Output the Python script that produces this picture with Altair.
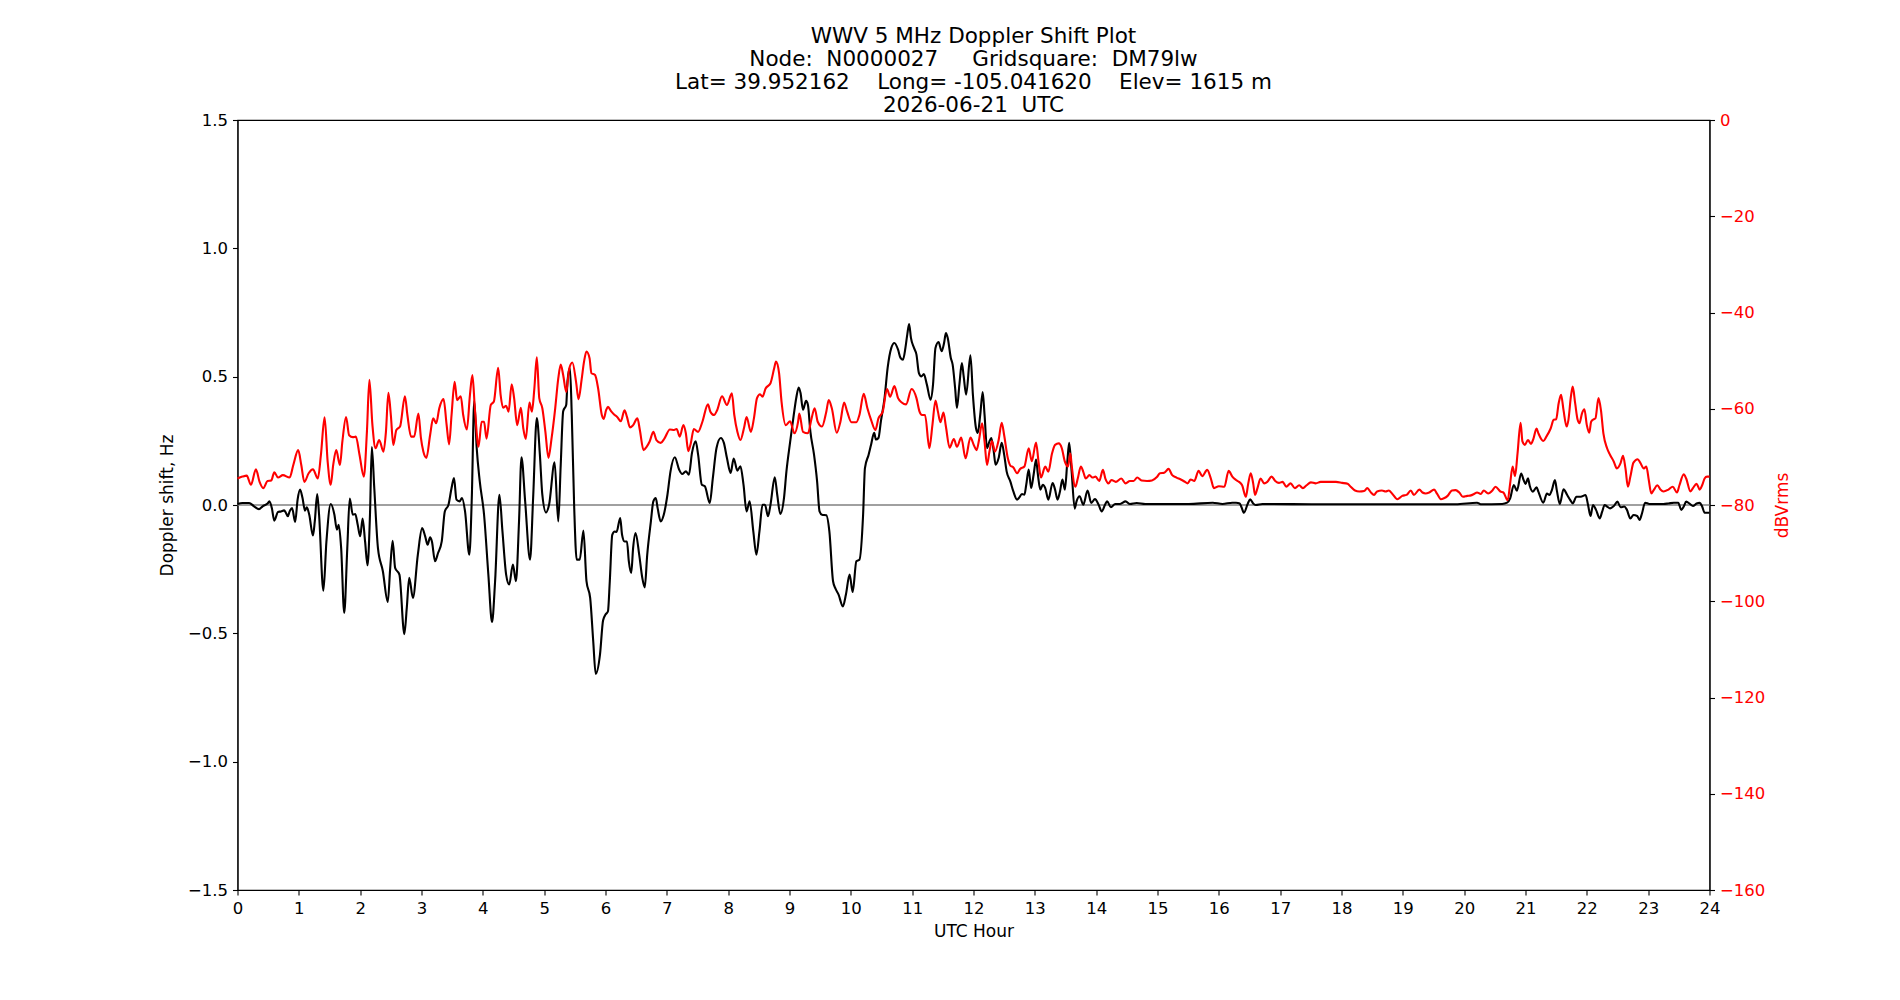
import altair as alt
import pandas as pd

# ---- data ----
black_hours = [0.00,0.08,0.19,0.27,0.35,0.41,0.49,0.52,0.56,0.60,0.66,0.71,0.76,0.79,0.82,0.85,0.89,0.94,0.98,1.02,
1.06,1.10,1.13,1.17,1.23,1.26,1.30,1.33,1.40,1.45,1.52,1.58,1.62,1.65,1.69,1.74,1.79,1.83,1.88,1.92,
1.96,2.00,2.04,2.08,2.12,2.16,2.19,2.23,2.29,2.37,2.45,2.49,2.53,2.57,2.64,2.72,2.76,2.80,2.86,2.94,
3.01,3.06,3.10,3.14,3.17,3.22,3.27,3.33,3.38,3.44,3.49,3.53,3.57,3.62,3.66,3.71,3.78,3.82,3.86,3.90,
3.95,4.02,4.09,4.15,4.20,4.27,4.32,4.38,4.43,4.49,4.54,4.59,4.63,4.69,4.77,4.82,4.88,4.93,4.97,5.03,
5.08,5.17,5.23,5.27,5.31,5.36,5.38,5.42,5.45,5.49,5.53,5.58,5.64,5.69,5.75,5.80,5.84,5.91,5.96,6.00,
6.04,6.07,6.11,6.15,6.18,6.24,6.27,6.31,6.35,6.38,6.42,6.45,6.49,6.55,6.60,6.64,6.68,6.74,6.78,6.82,
6.85,6.90,6.95,7.01,7.06,7.13,7.20,7.25,7.31,7.36,7.41,7.47,7.51,7.57,7.62,7.70,7.75,7.81,7.88,7.93,
7.98,8.04,8.09,8.15,8.20,8.25,8.30,8.35,8.41,8.46,8.51,8.56,8.60,8.65,8.69,8.76,8.80,8.85,8.91,8.95,
9.01,9.07,9.11,9.15,9.18,9.22,9.27,9.30,9.34,9.40,9.45,9.49,9.53,9.60,9.65,9.71,9.75,9.80,9.87,9.92,
9.98,10.03,10.09,10.14,10.20,10.23,10.29,10.33,10.38,10.41,10.45,10.49,10.55,10.60,10.66,10.71,10.77,10.81,10.85,10.89,
10.92,10.95,10.98,11.03,11.07,11.11,11.15,11.19,11.24,11.30,11.34,11.38,11.43,11.48,11.52,11.55,11.58,11.63,11.66,11.70,
11.73,11.77,11.81,11.84,11.88,11.95,11.99,12.04,12.07,12.11,12.15,12.18,12.22,12.26,12.29,12.33,12.36,12.41,12.46,12.50,
12.54,12.60,12.65,12.71,12.74,12.79,12.83,12.86,12.90,12.94,12.98,13.02,13.05,13.09,13.13,13.17,13.22,13.29,13.33,13.37,
13.41,13.45,13.49,13.53,13.56,13.60,13.65,13.68,13.73,13.79,13.86,13.92,13.98,14.04,14.09,14.15,14.18,14.24,14.31,14.39,
14.48,14.55,14.66,14.80,15.00,15.51,15.90,16.06,16.22,16.28,16.34,16.37,16.41,16.47,16.51,16.56,16.60,16.71,17.69,18.77,
19.86,20.21,20.27,20.62,20.70,20.75,20.81,20.86,20.93,20.97,21.00,21.04,21.07,21.12,21.18,21.21,21.29,21.35,21.39,21.43,
21.48,21.51,21.56,21.62,21.68,21.73,21.77,21.83,21.90,21.98,22.02,22.06,22.10,22.15,22.21,22.25,22.29,22.33,22.38,22.44,
22.50,22.55,22.61,22.65,22.71,22.76,22.82,22.86,22.90,22.95,23.02,23.25,23.33,23.42,23.49,23.54,23.58,23.62,23.68,23.73,
23.79,23.84,23.88,23.92,24.00]

doppler_shift_hz = [0.004,0.008,0.008,-0.005,-0.016,-0.005,0.006,0.014,-0.012,-0.061,-0.027,-0.025,-0.021,-0.031,-0.044,-0.025,-0.012,-0.066,0.021,0.060,
0.027,-0.022,-0.009,-0.038,-0.119,-0.064,0.043,-0.038,-0.334,-0.142,0.004,-0.038,-0.096,-0.077,-0.168,-0.421,-0.168,0.025,-0.038,-0.035,
-0.077,-0.122,-0.053,-0.142,-0.235,-0.038,0.226,0.066,-0.168,-0.258,-0.378,-0.245,-0.139,-0.245,-0.271,-0.503,-0.401,-0.284,-0.362,-0.194,
-0.090,-0.122,-0.155,-0.126,-0.142,-0.219,-0.187,-0.142,-0.025,0.001,0.066,0.105,0.021,0.014,0.027,-0.025,-0.194,0.027,0.406,0.222,
0.092,-0.038,-0.271,-0.456,-0.297,0.040,-0.103,-0.271,-0.310,-0.232,-0.297,-0.064,0.186,0.014,-0.213,0.027,0.339,0.196,0.040,-0.029,
0.001,0.166,-0.064,0.157,0.365,0.391,0.482,0.534,0.352,-0.012,-0.213,-0.213,-0.100,-0.297,-0.362,-0.531,-0.658,-0.583,-0.450,-0.427,
-0.414,-0.297,-0.116,-0.103,-0.105,-0.051,-0.116,-0.142,-0.142,-0.219,-0.265,-0.168,-0.109,-0.194,-0.284,-0.321,-0.194,-0.064,0.014,0.027,
-0.012,-0.064,-0.038,0.040,0.131,0.186,0.138,0.121,0.131,0.118,0.203,0.248,0.196,0.079,0.073,0.008,0.105,0.222,0.261,0.242,
0.183,0.125,0.181,0.134,0.151,0.079,-0.025,0.014,-0.103,-0.194,-0.103,0.001,0.001,-0.044,0.001,0.108,0.040,-0.035,0.027,0.131,
0.245,0.352,0.417,0.458,0.436,0.371,0.406,0.391,0.287,0.196,0.092,-0.025,-0.038,-0.040,-0.103,-0.297,-0.326,-0.349,-0.395,-0.349,
-0.271,-0.339,-0.219,-0.213,-0.038,0.144,0.196,0.235,0.281,0.255,0.261,0.326,0.417,0.534,0.612,0.631,0.605,0.573,0.566,0.612,
0.664,0.705,0.651,0.612,0.586,0.514,0.501,0.510,0.469,0.410,0.469,0.612,0.635,0.599,0.631,0.670,0.651,0.573,0.547,0.456,
0.378,0.469,0.553,0.501,0.430,0.583,0.430,0.300,0.281,0.352,0.440,0.352,0.222,0.248,0.261,0.209,0.157,0.183,0.242,0.196,
0.131,0.092,0.053,0.021,0.027,0.043,0.040,0.079,0.138,0.066,0.118,0.177,0.118,0.060,0.079,0.066,0.021,0.086,0.060,0.021,
0.053,0.099,0.060,0.170,0.242,0.131,-0.014,0.014,0.034,0.001,0.056,0.008,0.023,0.001,-0.025,0.004,0.014,-0.009,0.004,0.004,
0.014,0.004,0.008,0.004,0.004,0.004,0.009,0.004,0.009,0.009,0.006,-0.009,-0.030,0.004,0.022,0.006,0.000,0.004,0.003,0.003,
0.003,0.009,0.003,0.004,0.009,0.026,0.078,0.056,0.123,0.097,0.082,0.104,0.074,0.052,0.069,0.052,0.009,0.045,0.039,0.058,
0.097,0.058,0.004,0.061,0.039,0.019,0.006,0.032,0.032,0.039,0.000,-0.043,0.000,-0.019,-0.052,-0.026,0.000,-0.006,-0.013,-0.004,
0.013,-0.009,-0.006,-0.017,-0.052,-0.039,-0.043,-0.058,-0.032,0.009,0.004,0.004,0.006,0.009,0.009,-0.019,-0.006,0.013,0.004,-0.004,
0.006,0.009,-0.006,-0.030,-0.030]

red_hours = [0.00,0.08,0.15,0.22,0.30,0.36,0.42,0.49,0.55,0.60,0.66,0.74,0.85,0.91,0.99,1.04,1.09,1.16,1.23,1.31,
1.36,1.42,1.47,1.52,1.56,1.61,1.67,1.71,1.77,1.82,1.88,1.93,1.99,2.06,2.11,2.15,2.20,2.25,2.31,2.38,
2.42,2.46,2.50,2.54,2.59,2.65,2.73,2.77,2.83,2.88,2.95,2.99,3.03,3.08,3.14,3.19,3.24,3.29,3.36,3.41,
3.45,3.49,3.54,3.58,3.64,3.68,3.74,3.79,3.83,3.87,3.93,3.98,4.02,4.06,4.13,4.18,4.25,4.29,4.33,4.38,
4.42,4.47,4.51,4.56,4.62,4.66,4.70,4.76,4.80,4.84,4.88,4.92,4.97,5.02,5.07,5.12,5.18,5.23,5.27,5.31,
5.36,5.41,5.46,5.52,5.56,5.61,5.65,5.69,5.74,5.77,5.83,5.88,5.94,5.97,6.01,6.04,6.09,6.14,6.19,6.25,
6.31,6.35,6.40,6.45,6.52,6.56,6.62,6.67,6.72,6.78,6.83,6.90,6.96,7.05,7.12,7.16,7.21,7.27,7.31,7.35,
7.39,7.44,7.51,7.58,7.67,7.71,7.77,7.82,7.90,7.98,8.06,8.10,8.15,8.20,8.26,8.30,8.37,8.42,8.47,8.52,
8.56,8.61,8.69,8.75,8.78,8.83,8.87,8.94,9.01,9.08,9.14,9.16,9.22,9.30,9.36,9.41,9.46,9.53,9.60,9.64,
9.69,9.77,9.83,9.89,9.94,10.01,10.09,10.14,10.21,10.27,10.33,10.40,10.45,10.52,10.59,10.64,10.71,10.77,10.83,10.90,
10.99,11.07,11.12,11.16,11.21,11.28,11.33,11.38,11.42,11.46,11.51,11.55,11.61,11.68,11.73,11.80,11.87,11.95,12.01,12.05,
12.09,12.14,12.18,12.22,12.26,12.30,12.35,12.41,12.46,12.50,12.56,12.60,12.65,12.71,12.76,12.83,12.90,12.95,13.02,13.06,
13.10,13.17,13.22,13.28,13.33,13.39,13.44,13.49,13.54,13.58,13.60,13.66,13.70,13.75,13.79,13.83,13.89,13.94,13.99,14.05,
14.11,14.15,14.20,14.25,14.32,14.41,14.48,14.55,14.61,14.67,14.74,14.83,14.91,14.99,15.04,15.11,15.18,15.24,15.31,15.38,
15.45,15.49,15.54,15.60,15.67,15.73,15.81,15.87,15.92,16.00,16.09,16.16,16.22,16.28,16.33,16.38,16.44,16.48,16.52,16.56,
16.59,16.63,16.68,16.74,16.79,16.86,16.92,16.98,17.04,17.10,17.17,17.24,17.31,17.37,17.43,17.50,17.58,17.66,17.80,17.91,
18.01,18.10,18.15,18.22,18.29,18.37,18.42,18.48,18.53,18.58,18.66,18.72,18.77,18.83,18.91,18.99,19.06,19.13,19.18,19.27,
19.32,19.37,19.43,19.51,19.56,19.62,19.67,19.73,19.80,19.86,19.92,19.98,20.05,20.11,20.16,20.21,20.27,20.32,20.39,20.46,
20.51,20.59,20.64,20.71,20.75,20.79,20.83,20.87,20.92,20.95,20.99,21.04,21.09,21.13,21.18,21.21,21.29,21.34,21.41,21.46,
21.50,21.54,21.58,21.62,21.67,21.70,21.74,21.77,21.81,21.85,21.88,21.92,21.96,22.00,22.04,22.07,22.11,22.14,22.19,22.23,
22.27,22.33,22.38,22.44,22.49,22.55,22.59,22.63,22.67,22.71,22.76,22.83,22.87,22.93,22.97,23.01,23.05,23.09,23.15,23.20,
23.25,23.33,23.40,23.47,23.51,23.58,23.62,23.69,23.73,23.79,23.84,23.88,23.92,23.96,24.00]

signal_dbvrms = [-74.5,-74.1,-73.9,-75.8,-72.6,-75.2,-76.5,-75.0,-74.9,-73.2,-74.3,-73.8,-74.3,-71.7,-68.6,-71.7,-75.2,-73.4,-72.6,-74.5,
-69.6,-61.8,-71.0,-75.8,-71.7,-68.6,-71.7,-66.8,-61.7,-65.5,-65.9,-65.8,-69.6,-74.1,-64.8,-54.0,-63.4,-68.2,-66.5,-68.9,
-64.8,-56.7,-61.3,-67.5,-64.4,-63.7,-57.4,-61.3,-65.8,-65.8,-61.0,-66.0,-68.9,-70.2,-65.5,-62.0,-63.0,-59.9,-58.0,-63.4,
-67.4,-61.3,-54.4,-58.2,-57.4,-61.3,-64.3,-57.1,-53.0,-59.9,-67.9,-62.7,-62.7,-66.2,-59.2,-58.5,-51.5,-57.1,-59.8,-59.4,
-60.6,-54.9,-57.8,-63.4,-59.8,-64.1,-66.3,-58.7,-60.6,-55.8,-49.3,-57.8,-59.9,-64.8,-70.2,-66.2,-59.9,-53.7,-50.8,-53.0,
-56.5,-51.6,-50.4,-54.4,-58.0,-54.0,-50.2,-48.1,-49.5,-52.6,-53.0,-55.8,-61.3,-62.1,-60.3,-59.6,-60.5,-61.2,-61.7,-62.6,
-60.3,-61.7,-63.9,-63.4,-62.0,-64.4,-68.6,-67.9,-66.8,-64.8,-66.5,-67.1,-66.2,-64.3,-64.4,-64.2,-65.8,-63.4,-65.1,-68.8,
-67.2,-64.2,-64.8,-62.7,-59.1,-60.6,-61.3,-60.3,-57.4,-59.2,-56.8,-61.3,-64.8,-66.5,-63.9,-61.7,-64.8,-62.0,-57.8,-57.0,
-57.5,-55.8,-54.7,-51.6,-50.2,-52.6,-58.5,-63.4,-62.6,-65.1,-62.7,-61.0,-64.8,-65.1,-62.0,-59.9,-62.7,-63.7,-60.6,-58.2,
-59.9,-65.0,-62.7,-58.7,-60.6,-62.8,-62.8,-61.3,-56.9,-59.9,-62.3,-64.4,-62.0,-60.6,-55.9,-57.5,-55.3,-57.8,-58.7,-59.1,
-55.9,-57.8,-60.6,-61.3,-61.3,-68.2,-63.4,-58.3,-60.6,-62.8,-60.8,-63.7,-68.1,-66.3,-67.9,-66.0,-70.3,-66.0,-67.7,-68.6,
-66.5,-63.0,-66.8,-71.7,-68.9,-66.7,-68.9,-66.5,-62.9,-65.5,-70.3,-71.8,-72.2,-73.4,-72.5,-72.0,-68.2,-70.9,-67.0,-71.0,
-74.3,-72.0,-73.1,-69.3,-67.5,-67.2,-68.2,-71.0,-72.0,-69.3,-71.7,-76.2,-74.5,-72.0,-73.1,-74.5,-73.8,-74.3,-74.1,-75.0,
-72.7,-74.5,-75.5,-74.8,-75.2,-74.5,-75.5,-75.0,-75.0,-74.3,-74.9,-75.0,-74.9,-74.2,-73.4,-73.3,-72.5,-73.8,-74.3,-74.7,
-75.2,-75.5,-74.7,-75.0,-72.9,-74.0,-72.7,-74.5,-76.5,-76.1,-76.2,-72.9,-74.1,-74.8,-75.2,-75.9,-78.3,-75.5,-73.4,-75.5,
-77.9,-76.5,-74.5,-75.5,-75.2,-74.1,-75.0,-75.4,-75.2,-76.2,-75.5,-76.5,-75.9,-76.5,-75.9,-75.3,-75.5,-75.2,-75.2,-75.2,
-75.4,-75.6,-76.2,-77.0,-77.2,-77.1,-76.5,-77.4,-77.9,-77.2,-77.0,-77.2,-77.0,-77.7,-78.8,-78.1,-77.9,-77.0,-77.9,-76.8,
-77.4,-77.6,-77.4,-76.8,-77.7,-78.8,-78.6,-78.1,-77.0,-76.9,-77.4,-78.3,-78.1,-78.0,-77.7,-77.4,-77.7,-77.0,-77.6,-77.0,
-76.2,-77.2,-77.4,-79.0,-75.5,-72.0,-74.0,-69.3,-62.9,-66.8,-67.5,-66.5,-67.3,-66.2,-64.1,-65.1,-66.7,-65.8,-64.1,-62.3,
-62.2,-58.9,-57.1,-60.3,-63.7,-62.3,-57.5,-55.4,-58.9,-62.3,-63.0,-61.0,-60.1,-63.4,-65.0,-62.7,-62.2,-62.0,-57.8,-60.3,
-65.1,-68.2,-69.6,-71.0,-72.4,-71.3,-69.8,-72.4,-76.2,-74.1,-71.2,-70.5,-71.2,-72.4,-72.0,-74.8,-77.6,-76.9,-75.9,-76.8,
-77.2,-76.8,-76.2,-77.4,-75.9,-73.6,-74.5,-77.2,-76.5,-75.6,-76.8,-75.9,-74.5,-74.1,-74.1]

hour_ticks = list(range(0, 25))
doppler_ticks = [-1.5, -1.0, -0.5, 0.0, 0.5, 1.0, 1.5]
dbv_ticks = [-160, -140, -120, -100, -80, -60, -40, -20, 0]
NB = "\u00a0"  # non-breaking space keeps the reference's wide gaps in SVG text
title_lines = [
    "WWV 5 MHz Doppler Shift Plot",
    "Node:" + NB * 2 + "N0000027" + NB * 5 + "Gridsquare:" + NB * 2 + "DM79lw",
    "Lat= 39.952162" + NB * 4 + "Long= -105.041620" + NB * 4 + "Elev= 1615 m",
    "2026-06-21" + NB * 2 + "UTC",
]

FONT = "DejaVu Sans"
W, H = 1472, 770

black_df = pd.DataFrame({"hour": black_hours, "shift": doppler_shift_hz})
red_df = pd.DataFrame({"hour": red_hours, "dbv": signal_dbvrms})
zero_df = pd.DataFrame({"hour": [0, 24], "shift": [0.0, 0.0]})

x_enc = alt.X(
    "hour:Q",
    scale=alt.Scale(domain=[0, 24], nice=False, zero=False),
    axis=alt.Axis(values=hour_ticks, format="d", title="UTC Hour",
                  labelFlush=False, labelOverlap=False, labelBound=False,
                  titleX=W / 2, titleY=41, titleBaseline="middle", titleAlign="center"),
)

left_axis = alt.Axis(values=doppler_ticks, format=".1f", title="Doppler shift, Hz",
                     orient="left", labelOverlap=False, labelFlush=False,
                     titleAngle=270, titleX=-70, titleY=H / 2,
                     titleBaseline="middle", titleAlign="center")
left_scale = alt.Scale(domain=[-1.5, 1.5], nice=False, zero=False)

zero_line = alt.Chart(zero_df).mark_line(color="#808080", strokeWidth=1.5).encode(
    x=x_enc, y=alt.Y("shift:Q", scale=left_scale, axis=left_axis)
)
black_line = alt.Chart(black_df).mark_line(color="black", strokeWidth=2.1, interpolate="monotone").encode(
    x=x_enc, y=alt.Y("shift:Q", scale=left_scale, axis=left_axis), order="hour:Q"
)
left = alt.layer(zero_line, black_line)

red_line = alt.Chart(red_df).mark_line(color="#ff0000", strokeWidth=2.1, interpolate="monotone").encode(
    x=x_enc,
    y=alt.Y("dbv:Q", scale=alt.Scale(domain=[-160, 0], nice=False, zero=False),
            axis=alt.Axis(values=dbv_ticks, format="d", title="dBVrms", orient="right",
                          labelColor="#ff0000", titleColor="#ff0000", labelOverlap=False,
                          labelFlush=False, titleAngle=270, titleX=73, titleY=H / 2,
                          titleBaseline="middle", titleAlign="center")),
    order="hour:Q",
)

chart = alt.layer(left, red_line).resolve_scale(y="independent").properties(
    width=W, height=H,
    background="white",
    title=alt.TitleParams(text=title_lines, font=FONT, fontSize=21.5, fontWeight="normal",
                          color="black", anchor="middle", frame="group", lineHeight=23.2,
                          baseline="bottom", offset=-27),
    padding={"left": 229.5, "top": 112, "right": 180, "bottom": 100},
    autosize=alt.AutoSizeParams(type="none"),
).configure_view(
    stroke="black", strokeWidth=1.1
).configure_axis(
    grid=False, domainColor="black", domainWidth=1.1, tickColor="black", tickWidth=1.1,
    tickSize=5, labelPadding=5, labelFont=FONT, labelFontSize=16.5, labelColor="black",
    titleFont=FONT, titleFontSize=17, titleFontWeight="normal", titleColor="black",
)

chart.save("out.html", embed_options={"renderer": "svg", "actions": False})
